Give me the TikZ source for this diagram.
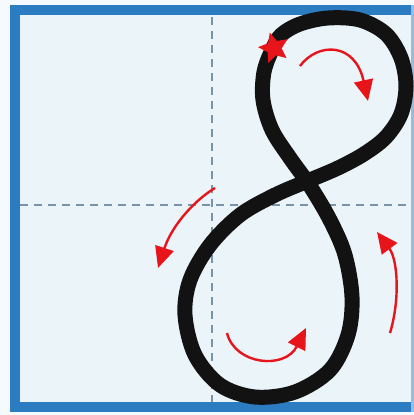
\documentclass[tikz,border=0pt]{standalone}
\usetikzlibrary{arrows.meta,shapes.geometric}
\definecolor{bgout}{HTML}{F4FAFD}
\definecolor{bgin}{HTML}{EAF4F9}
\definecolor{frameblue}{HTML}{2B7CC0}
\definecolor{dashc}{HTML}{7893AA}
\definecolor{redc}{HTML}{E8141C}
\definecolor{inkc}{HTML}{121212}
\tikzset{
  guide/.style={dashc, line width=2.6pt, dash pattern=on 8pt off 6pt},
  eight/.style={inkc, line width=15pt, line join=round},
  redarrow/.style={redc, line width=2.4pt, -{Triangle[length=21pt,width=19pt]}},
}
\begin{document}
\begin{tikzpicture}[x=1pt,y=-1pt]
\useasboundingbox (0,0) rectangle (413,415);
\fill[bgout] (0,0) rectangle (413,415);
\fill[bgin] (15,10) rectangle (413,407);
% guides
\draw[guide] (212,17) -- (212,402);
\draw[guide] (20,205) -- (408,205);
% frame
\draw[frameblue, line width=10pt] (15,10) -- (416,10);
\draw[frameblue, line width=10pt] (15,5) -- (15,412);
\draw[frameblue, line width=10pt] (10,407) -- (416,407);
\draw[frameblue!50, line width=5pt] (413,5) -- (413,412);
% figure eight
\draw[eight] plot[smooth cycle, tension=0.55] coordinates {
 (272,50) (281,35) (300,24) (328,18) (360,20) (386,34) (401,58) (406,86)
 (401,114) (386,137) (364,154) (338,168) (310,180) (275,195) (240,215) (210,245)
 (190,280) (185,315) (195,355) (220,385) (255,397) (295,392) (330,370)
 (348,335) (352,297) (345,255) (330,220) (310,186) (290,158) (272,130)
 (263,100) (264,72)};
% start star
\node[star, star points=5, star point ratio=2.1, fill=redc, minimum size=32pt, inner sep=0pt, rotate=15] (st) at (274,48) {};
% arrows
\coordinate (a1s) at (300,66);
\coordinate (a1e) at (368,101);
\draw[redarrow] (a1s) .. controls (318,42) and (355,42) .. (a1e);
\coordinate (a2s) at (215,188);
\coordinate (a2e) at (158,268);
\draw[redarrow] (a2s) .. controls (195,200) and (172,225) .. (a2e);
\coordinate (a3s) at (227,333);
\coordinate (a3e) at (306,328);
\draw[redarrow] (a3s) .. controls (235,365) and (285,370) .. (a3e);
\coordinate (a4s) at (390,333);
\coordinate (a4e) at (377,232);
\draw[redarrow] (a4s) .. controls (400,300) and (398,260) .. (a4e);
\end{tikzpicture}
\end{document}
